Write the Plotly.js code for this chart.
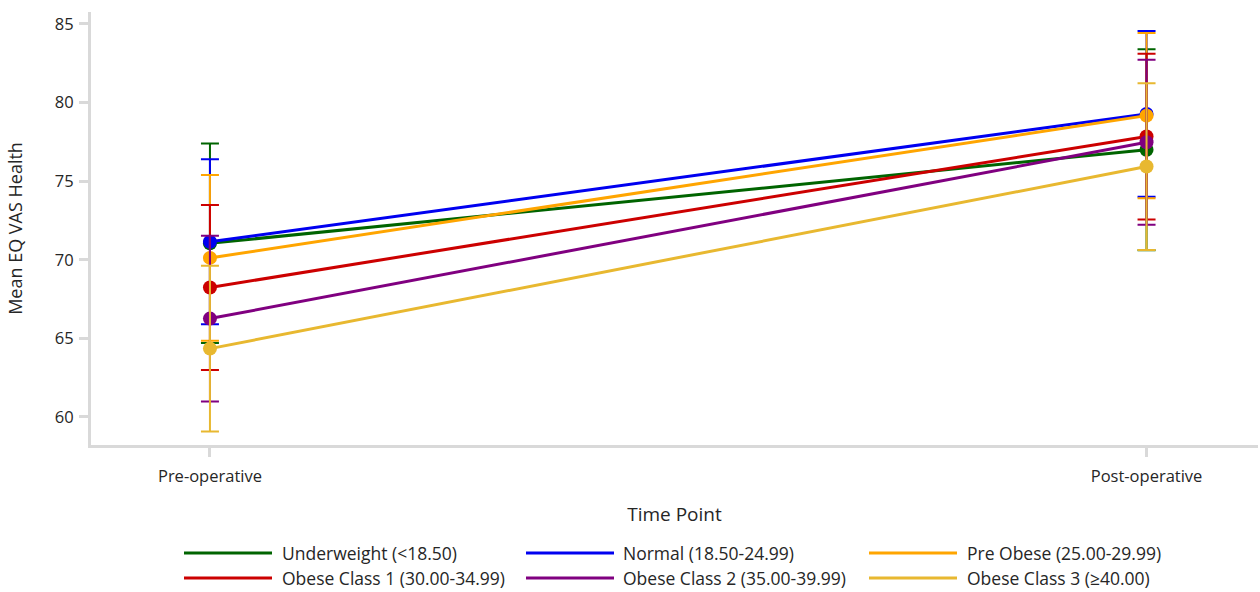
<!DOCTYPE html>
<html>
<head>
<meta charset="utf-8">
<script src="https://cdn.plot.ly/plotly-3.0.1.min.js"></script>
<style>html,body{margin:0;padding:0;background:#fff;}#chart{width:1260px;height:592px;}</style>
</head>
<body>
<div id="chart"></div>
<script>
// ---- data ----
const timePoints = ['Pre-operative', 'Post-operative'];
const groupNames = [
  'Underweight (<18.50)',
  'Normal (18.50-24.99)',
  'Pre Obese (25.00-29.99)',
  'Obese Class 1 (30.00-34.99)',
  'Obese Class 2 (35.00-39.99)',
  'Obese Class 3 (\u226540.00)'
];
const underweightMean = [71.05, 77.0];
const underweightErr  = [6.35, 6.4];
const normalMean      = [71.15, 79.28];
const normalErr       = [5.25, 5.27];
const preObeseMean    = [70.12, 79.17];
const preObeseErr     = [5.27, 5.26];
const obese1Mean      = [68.24, 77.84];
const obese1Err       = [5.25, 5.27];
const obese2Mean      = [66.26, 77.48];
const obese2Err       = [5.27, 5.25];
const obese3Mean      = [64.35, 75.93];
const obese3Err       = [5.27, 5.3];

const means = [underweightMean, normalMean, preObeseMean, obese1Mean, obese2Mean, obese3Mean];
const errs  = [underweightErr, normalErr, preObeseErr, obese1Err, obese2Err, obese3Err];
const colors = ['#006400', '#0000F0', '#FFA500', '#CC0000', '#800080', '#E8B830'];

const traces = groupNames.map((name, i) => ({
  type: 'scatter',
  mode: 'lines+markers',
  name: name,
  x: timePoints,
  y: means[i],
  line: {color: colors[i], width: 3},
  marker: {color: colors[i], size: 14},
  error_y: {type: 'data', array: errs[i], visible: true, color: colors[i], thickness: 2, width: 9},
  showlegend: false,
  cliponaxis: false
}));

// ---- custom legend (long line symbols) ----
const L = 91, R = 1258, T = 12, B = 445;
const px2x = p => (p - L) / (R - L);
const px2y = p => (B - p) / (B - T);
const colLine = [[184, 272], [526, 614], [869, 957]];
const colText = [280, 621, 965];
const rowY = [553, 578];
const shapes = [];
const annotations = [];
groupNames.forEach((name, i) => {
  const c = i % 3, r = Math.floor(i / 3);
  shapes.push({type: 'line', xref: 'paper', yref: 'paper',
    x0: px2x(colLine[c][0]), x1: px2x(colLine[c][1]), y0: px2y(rowY[r]), y1: px2y(rowY[r]),
    line: {color: colors[i], width: 3}});
  annotations.push({xref: 'paper', yref: 'paper', x: px2x(colText[c]), y: px2y(rowY[r]),
    xanchor: 'left', yanchor: 'middle', showarrow: false, text: name,
    font: {size: 17.5, color: '#262626'}});
});

const layout = {
  width: 1260, height: 592,
  margin: {l: L, r: 1260 - R, t: T, b: 592 - B},
  paper_bgcolor: '#ffffff', plot_bgcolor: '#ffffff',
  font: {family: 'Open Sans, Noto Sans, sans-serif', size: 17, color: '#262626'},
  showlegend: false,
  xaxis: {
    type: 'category', range: [-0.127, 1.119],
    showgrid: false, zeroline: false,
    showline: true, linecolor: '#d9d9d9', linewidth: 3,
    ticks: 'outside', ticklen: 9, tickwidth: 3, tickcolor: '#d9d9d9',
    ticklabelstandoff: 5,
    tickfont: {size: 16.5, color: '#262626'},
    title: {text: 'Time Point', font: {size: 19, color: '#262626'}, standoff: 22}
  },
  yaxis: {
    range: [58.218, 85.763],
    tickvals: [60, 65, 70, 75, 80, 85],
    showgrid: false, zeroline: false,
    showline: true, linecolor: '#d9d9d9', linewidth: 3,
    ticks: 'outside', ticklen: 9, tickwidth: 3, tickcolor: '#d9d9d9',
    ticklabelstandoff: 2,
    tickfont: {size: 16.5, color: '#262626'},
    title: {text: 'Mean EQ VAS Health', font: {size: 18, color: '#262626'}, standoff: 28}
  },
  shapes: shapes,
  annotations: annotations
};

Plotly.newPlot('chart', traces, layout, {displayModeBar: false, staticPlot: true});
</script>
</body>
</html>
